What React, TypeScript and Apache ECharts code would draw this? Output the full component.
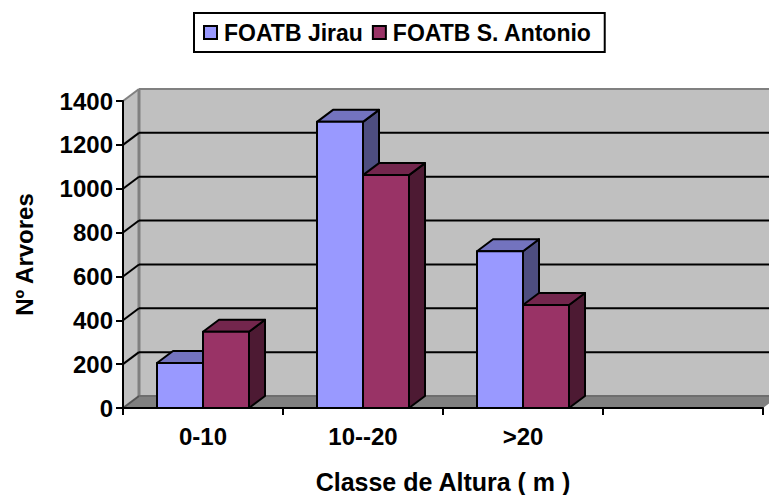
import React, { useEffect, useRef } from "react";
import * as echarts from "echarts";

const categories = ["0-10", "10--20", ">20", ""];
const jirau = [205, 1305, 715, null];
const santoAntonio = [348, 1062, 470, null];
const yTicks = [0, 200, 400, 600, 800, 1000, 1200, 1400];

const DEPTH_X = 16;
const DEPTH_Y = -12;
const BAR_FRACTION = 46 / 160;
const FONT = "'Liberation Sans', Arial, sans-serif";

function barRenderer(seriesIndex: number, front: string, top: string, side: string) {
  return (_params: any, api: any) => {
    const cat = api.value(0);
    const val = api.value(1);
    if (val == null || isNaN(val)) return null;
    const [cx, yTop] = api.coord([cat, val]);
    const [, yBase] = api.coord([cat, 0]);
    const bandW = api.size([1, 0])[0];
    const w = bandW * BAR_FRACTION;
    const x0 = cx + (seriesIndex - 1) * w;
    const x1 = x0 + w;
    const stroke = { stroke: "#000", lineWidth: 2, lineJoin: "round" };
    return {
      type: "group",
      children: [
        { type: "polygon", shape: { points: [[x1, yTop], [x1 + DEPTH_X, yTop + DEPTH_Y], [x1 + DEPTH_X, yBase + DEPTH_Y], [x1, yBase]] }, style: { fill: side, ...stroke } },
        { type: "polygon", shape: { points: [[x0, yTop], [x0 + DEPTH_X, yTop + DEPTH_Y], [x1 + DEPTH_X, yTop + DEPTH_Y], [x1, yTop]] }, style: { fill: top, ...stroke } },
        { type: "rect", shape: { x: x0, y: yTop, width: w, height: yBase - yTop }, style: { fill: front, ...stroke } },
      ],
    };
  };
}

function wallRenderer(params: any, api: any) {
  const cs = params.coordSys;
  const tick = api.value(0);
  const [, y] = api.coord([0, tick]);
  const left = cs.x;
  const right = cs.x + cs.width;
  const isEdge = tick === 0 || tick === yTicks[yTicks.length - 1];
  const color = isEdge ? "#808080" : "#000";
  const children: any[] = [];
  if (params.dataIndex === 0) {
    const topY = cs.y;
    const botY = cs.y + cs.height;
    children.push(
      { type: "rect", shape: { x: left + DEPTH_X, y: topY + DEPTH_Y, width: cs.width + DEPTH_X, height: cs.height }, style: { fill: "#C0C0C0" } },
      { type: "polygon", shape: { points: [[left, topY], [left + DEPTH_X, topY + DEPTH_Y], [left + DEPTH_X, botY + DEPTH_Y], [left, botY]] }, style: { fill: "#C0C0C0" } },
      { type: "polygon", shape: { points: [[left, botY], [left + DEPTH_X, botY + DEPTH_Y], [right + DEPTH_X, botY + DEPTH_Y], [right, botY]] }, style: { fill: "#808080" } },
      { type: "line", shape: { x1: left + DEPTH_X, y1: topY + DEPTH_Y, x2: left + DEPTH_X, y2: botY + DEPTH_Y }, style: { stroke: "#808080", lineWidth: 3 } }
    );
  }
  children.push(
    { type: "line", shape: { x1: left, y1: y, x2: left + DEPTH_X, y2: y + DEPTH_Y }, style: { stroke: tick === 0 ? "#555" : color, lineWidth: 2 } },
    { type: "line", shape: { x1: left + DEPTH_X, y1: y + DEPTH_Y, x2: right + DEPTH_X, y2: y + DEPTH_Y }, style: { stroke: tick === 0 ? "#6e6e6e" : color, lineWidth: 2 } }
  );
  return { type: "group", children };
}

export default function App() {
  const ref = useRef<HTMLDivElement>(null);
  useEffect(() => {
    document.body.style.margin = "0";
    const chart = echarts.init(ref.current!, undefined, { renderer: "svg" });
    chart.setOption({
      animation: false,
      backgroundColor: "#fff",
      grid: { left: 123, right: 6, top: 101, bottom: 87, containLabel: false, outerBoundsMode: "none" },
      legend: {
        data: ["FOATB Jirau", "FOATB S. Antonio"],
        left: 194,
        top: 13,
        orient: "horizontal",
        itemGap: 9,
        itemWidth: 13,
        itemHeight: 13,
        padding: [8, 13, 8, 9],
        borderColor: "#000",
        borderWidth: 2,
        backgroundColor: "#fff",
        selectedMode: false,
        icon: "rect",
        textStyle: { fontFamily: FONT, fontWeight: "bold", fontSize: 23, color: "#000", padding: [0, 0, 3, 2] },
      },
      xAxis: {
        type: "category",
        data: categories,
        z: 4,
        name: "Classe de Altura ( m )",
        nameLocation: "middle",
        nameGap: 61,
        nameTextStyle: { fontFamily: FONT, fontWeight: "bold", fontSize: 25, color: "#000" },
        axisLine: { show: true, lineStyle: { color: "#000", width: 2 } },
        axisTick: { show: true, length: 7, lineStyle: { color: "#000", width: 2 } },
        axisLabel: { interval: 0, margin: 16, fontFamily: FONT, fontWeight: "bold", fontSize: 24, color: "#000" },
      },
      yAxis: {
        type: "value",
        min: 0,
        max: 1400,
        interval: 200,
        z: 4,
        name: "Nº Arvores",
        nameLocation: "middle",
        nameGap: 87,
        nameTextStyle: { fontFamily: FONT, fontWeight: "bold", fontSize: 24, color: "#000" },
        axisLine: { show: true, lineStyle: { color: "#000", width: 2 } },
        axisTick: { show: true, length: 7, lineStyle: { color: "#000", width: 2 } },
        splitLine: { show: false },
        axisLabel: { margin: 10, formatter: (v: number) => String(v), fontFamily: FONT, fontWeight: "bold", fontSize: 24, color: "#000" },
      },
      series: [
        {
          type: "custom",
          name: "walls",
          z: 1,
          silent: true,
          renderItem: wallRenderer,
          data: yTicks.map((t) => [t]),
          encode: { y: 0 },
        },
        {
          type: "custom",
          name: "FOATB Jirau",
          z: 2,
          itemStyle: { color: "#9999FF", borderColor: "#000", borderWidth: 2 },
          renderItem: barRenderer(0, "#9999FF", "#7373BF", "#4D4D80"),
          data: jirau.map((v, i) => [i, v]),
          encode: { x: 0, y: 1 },
        },
        {
          type: "custom",
          name: "FOATB S. Antonio",
          z: 3,
          itemStyle: { color: "#993366", borderColor: "#000", borderWidth: 2 },
          renderItem: barRenderer(1, "#993366", "#73264D", "#4D1A33"),
          data: santoAntonio.map((v, i) => [i, v]),
          encode: { x: 0, y: 1 },
        },
      ],
    });
    return () => chart.dispose();
  }, []);
  return <div ref={ref} style={{ width: 769, height: 495 }} />;
}
